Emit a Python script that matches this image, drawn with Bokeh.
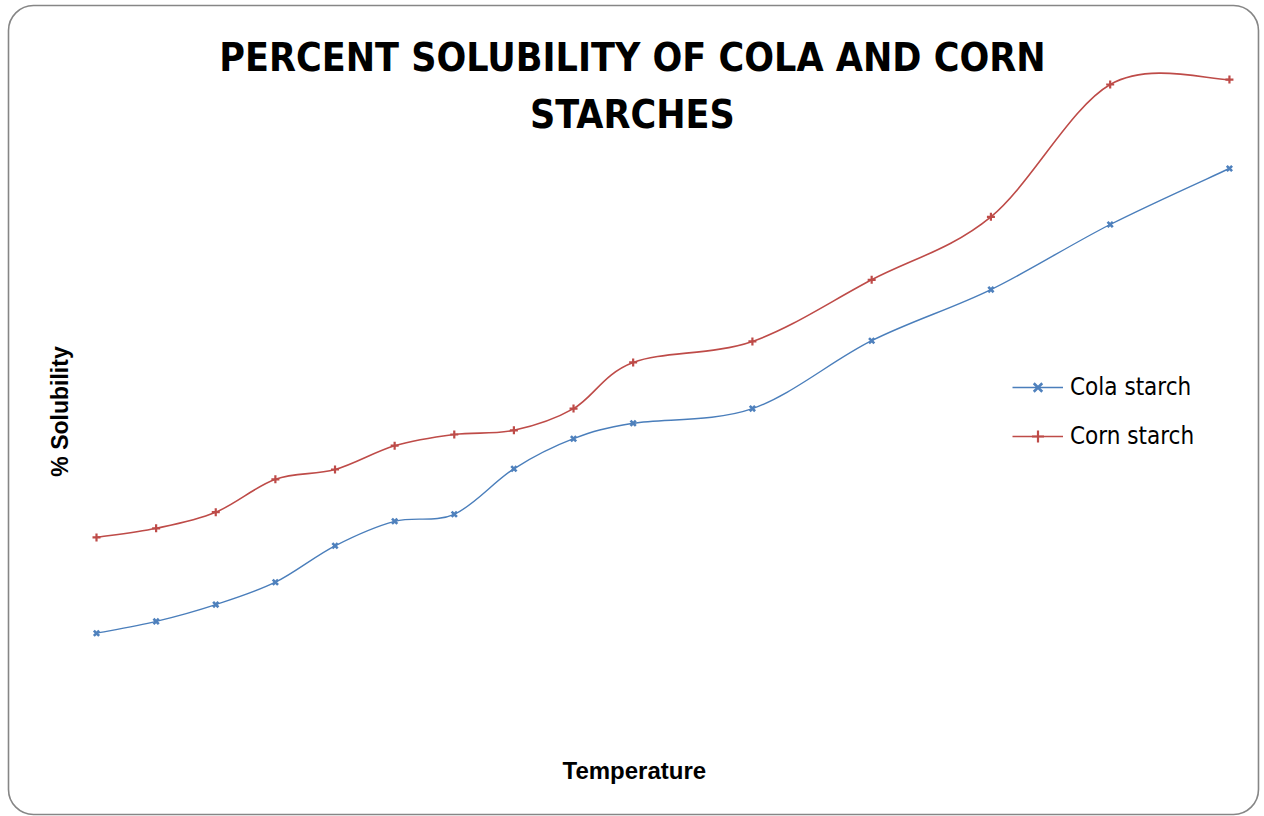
import math
from bokeh.plotting import figure
from bokeh.models import Range1d, Label, Legend, LegendItem, ColumnDataSource, BoxAnnotation
from bokeh.embed import file_html
from bokeh.resources import INLINE

# ---- data (y scale has no ticks, values are estimates) ----
temperature = [30, 35, 40, 45, 50, 55, 60, 65, 70, 75, 85, 95, 105, 115, 125]
cola_starch = [9.6, 11.3, 13.7, 16.9, 22.1, 25.6, 26.6, 33.1, 37.4, 39.6, 41.7, 51.4, 58.7, 68.0, 76.0]
corn_starch = [23.3, 24.6, 26.9, 31.6, 33.0, 36.4, 38.0, 38.6, 41.7, 48.3, 51.3, 60.1, 69.1, 88.0, 88.7]
series_names = ["Cola starch", "Corn starch"]
title_lines = ["PERCENT SOLUBILITY OF COLA AND CORN", "STARCHES"]
x_title = "Temperature"
y_title = "% Solubility"

BLUE = "#4A7EBB"
RED = "#BE4B48"
NARROW = "DejaVu Sans Condensed, Liberation Sans Narrow, sans-serif"
SANS = "Liberation Sans, Arial, sans-serif"


def smooth_segments(xs, ys):
    """Cubic Bezier segments (Excel-like smoothed line) through the data points."""
    n = len(xs)
    d = dict(x0=[], y0=[], x1=[], y1=[], cx0=[], cy0=[], cx1=[], cy1=[])
    for i in range(n - 1):
        p0 = i - 1 if i > 0 else i
        p3 = i + 2 if i + 2 < n else i + 1
        d["x0"].append(xs[i]); d["y0"].append(ys[i])
        d["x1"].append(xs[i + 1]); d["y1"].append(ys[i + 1])
        d["cx0"].append(xs[i] + (xs[i + 1] - xs[p0]) / 6.0)
        d["cy0"].append(ys[i] + (ys[i + 1] - ys[p0]) / 6.0)
        d["cx1"].append(xs[i + 1] - (xs[p3] - xs[i]) / 6.0)
        d["cy1"].append(ys[i + 1] - (ys[p3] - ys[i]) / 6.0)
    return ColumnDataSource(d)


W, H = 1264, 816
p = figure(width=W, height=H, output_backend="svg", toolbar_location=None,
           x_range=Range1d(21.95, 127.94), y_range=Range1d(-16.571, 100.0),
           min_border=0)
p.xaxis.visible = False
p.yaxis.visible = False
p.xgrid.visible = False
p.ygrid.visible = False
p.outline_line_color = None
p.background_fill_color = "white"
p.border_fill_color = "white"

# rounded chart-area border
p.add_layout(BoxAnnotation(left=22.621, right=127.436, top=99.286, bottom=-16.286,
                           border_radius=25, fill_alpha=0, line_color="#868686",
                           line_alpha=1.0, line_width=1.6))

cola_curve = p.bezier(x0="x0", y0="y0", x1="x1", y1="y1", cx0="cx0", cy0="cy0", cx1="cx1", cy1="cy1",
                      source=smooth_segments(temperature, cola_starch), line_color=BLUE, line_width=1.4)
corn_curve = p.bezier(x0="x0", y0="y0", x1="x1", y1="y1", cx0="cx0", cy0="cy0", cx1="cx1", cy1="cy1",
                      source=smooth_segments(temperature, corn_starch), line_color=RED, line_width=1.6)
cola_pts = p.scatter(temperature, cola_starch, marker="x", size=7.5, line_color="#4F81BD", line_width=2.6)
corn_pts = p.scatter(temperature, corn_starch, marker="cross", size=8, line_color=RED, line_width=2.2)

# titles
p.add_layout(Label(x=74.94, y=91.85, text=title_lines[0], text_align="center", text_baseline="alphabetic",
                   text_font=NARROW, text_font_style="bold", text_font_size="39px", text_color="black"))
p.add_layout(Label(x=74.94, y=83.75, text=title_lines[1], text_align="center", text_baseline="alphabetic",
                   text_font=NARROW, text_font_style="bold", text_font_size="39px", text_color="black"))
p.add_layout(Label(x=75.1, y=-10.0, text=x_title, text_align="center", text_baseline="alphabetic",
                   text_font=SANS, text_font_style="bold", text_font_size="24px", text_color="black"))
p.add_layout(Label(x=26.94, y=41.29, text=y_title, angle=math.pi / 2, text_align="center",
                   text_baseline="middle", text_font=SANS, text_font_style="bold",
                   text_font_size="23px", text_color="black"))

legend = Legend(items=[LegendItem(label=series_names[0], renderers=[cola_curve, cola_pts]),
                       LegendItem(label=series_names[1], renderers=[corn_curve, corn_pts])],
                location=(1012, 365), orientation="vertical",
                glyph_width=51, glyph_height=30, label_height=30, label_standoff=7,
                spacing=19, padding=0, margin=0, border_line_color=None,
                background_fill_alpha=0, label_text_font=NARROW,
                label_text_font_size="24px", label_text_color="black")
p.add_layout(legend)

open("out.html", "w").write(file_html(p, INLINE))
